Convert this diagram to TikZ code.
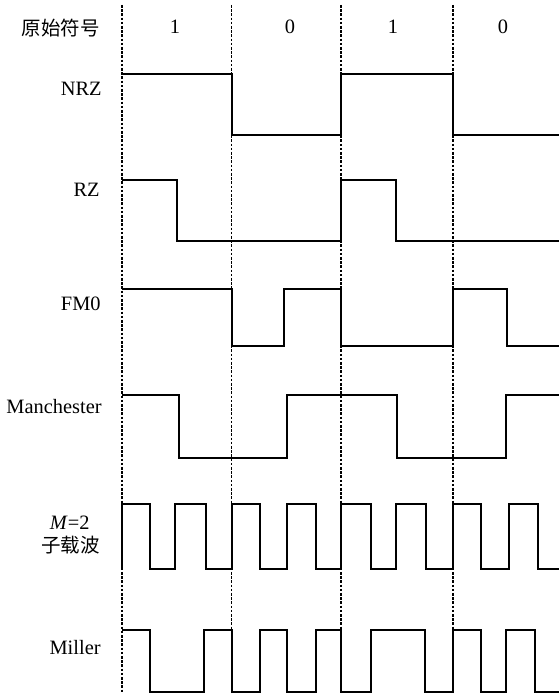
\documentclass[tikz,border=0pt]{standalone}
\usepackage{fontspec}
\setmainfont{Liberation Serif}
\newfontfamily\cjk{Noto Sans CJK SC}
\begin{document}
\begin{tikzpicture}[x=0.5pt,y=-0.5pt,line join=miter,font=\fontsize{10.2}{12}\selectfont]
	\tikzset{
		signal/.style={line width=1pt},
		bitline/.style={line width=0.9pt,dash pattern=on 1.3pt off 0.8pt},
		rowlabel/.style={anchor=base east,inner sep=0pt}
	}
	\useasboundingbox (0,0) rectangle (559,694);
	% Đường chia bit
	\foreach \x in {122,231.5,341,453}
		\draw[bitline] (\x,5) -- (\x,694);
	% Hàng tiêu đề
	\node[rowlabel] (lbl-src) at (100,36) {\cjk\fontsize{9.75}{12}\selectfont 原始符号};
	\foreach \x/\b [count=\i] in {175/1,290/0,393/1,503/0}
		\node[anchor=base,inner sep=0pt] (bit\i) at (\x,34) {\b};
	% NRZ
	\node[rowlabel] (lbl-nrz) at (102,96) {NRZ};
	\def\hi{74}\def\lo{135}
	\draw[signal] (122,\hi) -| (231.5,\lo) -| (341,\hi) -| (453,\lo) -- (559,\lo);
	% RZ
	\node[rowlabel] (lbl-rz) at (100,197) {RZ};
	\def\hi{180}\def\lo{241}
	\draw[signal] (122,\hi) -| (177,\lo) -| (341,\hi) -| (396,\lo) -- (559,\lo);
	% FM0
	\node[rowlabel] (lbl-fm) at (101,311) {FM0};
	\def\hi{289}\def\lo{346}
	\draw[signal] (122,\hi) -| (231.5,\lo) -| (284,\hi) -| (341,\lo) -| (453,\hi) -| (507,\lo) -- (559,\lo);
	% Manchester
	\node[rowlabel] (lbl-man) at (102,413) {Manchester};
	\def\hi{395}\def\lo{458}
	\draw[signal] (122,\hi) -| (178.5,\lo) -| (286.5,\hi) -| (397,\lo) -| (506,\hi) -- (559,\hi);
	% Sóng mang phụ M=2
	\node[rowlabel] (lbl-m) at (90,529) {\textit{M}=2};
	\node[rowlabel] (lbl-sub) at (100,552) {\cjk\fontsize{9.75}{12}\selectfont 子载波};
	\def\hi{504}\def\lo{569}
	\draw[signal] (122,\lo) -- (122,\hi) -| (150,\lo) -| (175,\hi) -| (206,\lo) -| (231.5,\hi) -| (260,\lo) -| (286.5,\hi) -| (316,\lo) -| (341,\hi) -| (371,\lo) -| (396,\hi) -| (426,\lo) -| (453,\hi) -| (481,\lo) -| (509,\hi) -| (538,\lo) -- (559,\lo);
	% Miller
	\node[rowlabel] (lbl-mil) at (101,654) {Miller};
	\def\hi{630}\def\lo{692}
	\draw[signal] (122,\hi) -| (150,\lo) -| (203.5,\hi) -| (231.5,\lo) -| (259.5,\hi) -| (286.5,\lo) -| (316,\hi) -| (341,\lo) -| (370.7,\hi) -| (425,\lo) -| (453,\hi) -| (481,\lo) -| (506,\hi) -| (535,\lo) -- (559,\lo);
\end{tikzpicture}
\end{document}
